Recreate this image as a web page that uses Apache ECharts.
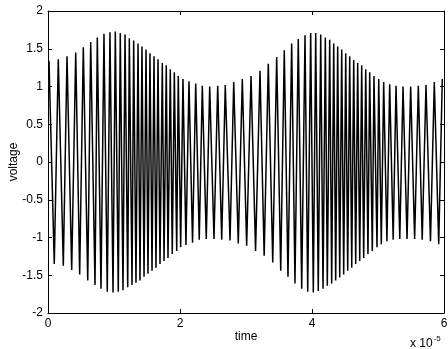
<!DOCTYPE html>
<html>
<head>
<meta charset="utf-8">
<script src="https://cdn.jsdelivr.net/npm/echarts@6/dist/echarts.min.js"></script>
<style>
  html, body { margin: 0; padding: 0; background: #fff; }
  #chart { width: 448px; height: 349px; }
</style>
</head>
<body>
<div id="chart"></div>
<script>
// time in units of 1e-5 s, voltage in V
const peakTime = [
  0.015, 0.156, 0.288, 0.420, 0.535, 0.647, 0.747, 0.848, 0.939, 1.020,
  1.095, 1.167, 1.232, 1.298, 1.364, 1.424, 1.485, 1.545, 1.606, 1.667,
  1.732, 1.792, 1.853, 1.914, 1.974, 2.045, 2.136, 2.238, 2.338, 2.450,
  2.571, 2.686, 2.814, 2.944,
  3.076, 3.212, 3.338, 3.465, 3.580, 3.692, 3.792, 3.894, 3.980, 4.056,
  4.132, 4.202, 4.268, 4.329, 4.389, 4.450, 4.511, 4.571, 4.632, 4.692,
  4.753, 4.814, 4.874, 4.939, 5.011, 5.086, 5.177, 5.273, 5.379, 5.495,
  5.611, 5.727, 5.853, 5.974
]
const peakVolt = [
  1.34, 1.36, 1.40, 1.45, 1.52, 1.59, 1.65, 1.70, 1.72, 1.73,
  1.71, 1.69, 1.64, 1.61, 1.57, 1.53, 1.49, 1.44, 1.40, 1.36,
  1.31, 1.28, 1.23, 1.19, 1.14, 1.10, 1.07, 1.04, 1.01, 1.00,
  1.01, 1.02, 1.06, 1.10,
  1.14, 1.21, 1.30, 1.39, 1.48, 1.57, 1.63, 1.68, 1.71, 1.71,
  1.69, 1.65, 1.62, 1.57, 1.53, 1.49, 1.44, 1.40, 1.35, 1.31,
  1.28, 1.23, 1.19, 1.14, 1.10, 1.06, 1.03, 1.01, 1.00, 1.00,
  1.01, 1.02, 1.06, 1.10
]
const troughTime = [
  0.095, 0.232, 0.359, 0.480, 0.602, 0.712, 0.803, 0.898, 0.985, 1.065,
  1.136, 1.208, 1.273, 1.333, 1.394, 1.455, 1.515, 1.576, 1.636, 1.697,
  1.758, 1.818, 1.883, 1.950, 2.010, 2.090, 2.190, 2.292, 2.398, 2.515,
  2.632, 2.758, 2.883,
  3.010, 3.145, 3.275, 3.405, 3.526, 3.636, 3.742, 3.844, 3.935, 4.020,
  4.095, 4.167, 4.232, 4.298, 4.359, 4.420, 4.480, 4.541, 4.602, 4.662,
  4.723, 4.783, 4.848, 4.914, 4.985, 5.050, 5.135, 5.230, 5.330, 5.440,
  5.555, 5.670, 5.795, 5.920
]
const troughVolt = [
  -1.35, -1.375, -1.43, -1.49, -1.57, -1.63, -1.68, -1.72, -1.73, -1.72,
  -1.70, -1.66, -1.63, -1.60, -1.57, -1.52, -1.48, -1.44, -1.40, -1.35,
  -1.31, -1.27, -1.22, -1.18, -1.13, -1.10, -1.07, -1.03, -1.02, -1.02,
  -1.03, -1.04, -1.08,
  -1.11, -1.18, -1.24, -1.33, -1.44, -1.52, -1.61, -1.68, -1.72, -1.73,
  -1.71, -1.68, -1.64, -1.61, -1.57, -1.53, -1.49, -1.44, -1.40, -1.35,
  -1.31, -1.27, -1.22, -1.18, -1.13, -1.09, -1.05, -1.03, -1.02, -1.02,
  -1.02, -1.03, -1.05, -1.09
]

const xTicks = { min: 0, max: 6, interval: 2 }
const yTicks = { min: -2, max: 2, interval: 0.5 }

const points = []
peakTime.forEach((t, i) => points.push([t, peakVolt[i]]))
troughTime.forEach((t, i) => points.push([t, troughVolt[i]]))
points.sort((a, b) => a[0] - b[0])

const chart = echarts.init(document.getElementById('chart'))

const font = { fontFamily: 'Liberation Sans, Arial, sans-serif', fontSize: 12, color: '#000' }
const tickStyle = { inside: true, length: 4, lineStyle: { color: '#000', width: 1 } }
const lineAxis = { show: true, onZero: false, lineStyle: { color: '#000', width: 1 } }

chart.setOption({
  animation: false,
  backgroundColor: '#fff',
  grid: { left: 48, right: 4, top: 11, bottom: 36, containLabel: false, outerBoundsMode: 'none' },
  xAxis: [
    {
      type: 'value', ...xTicks, position: 'bottom',
      axisLine: lineAxis, axisTick: tickStyle,
      axisLabel: { ...font, margin: 5 },
      splitLine: { show: false },
      name: 'time', nameLocation: 'middle', nameGap: 18, nameMoveOverlap: false,
      nameTextStyle: { ...font, verticalAlign: 'top' }
    },
    {
      type: 'value', ...xTicks, position: 'top',
      axisLine: lineAxis, axisTick: tickStyle,
      axisLabel: { show: false }, splitLine: { show: false }
    }
  ],
  yAxis: [
    {
      type: 'value', ...yTicks, position: 'left',
      axisLine: lineAxis, axisTick: tickStyle,
      axisLabel: { ...font, margin: 5 },
      splitLine: { show: false },
      name: 'voltage', nameLocation: 'middle', nameGap: 28, nameRotate: 90, nameMoveOverlap: false,
      nameTextStyle: { ...font, verticalAlign: 'bottom' }
    },
    {
      type: 'value', ...yTicks, position: 'right',
      axisLine: lineAxis, axisTick: tickStyle,
      axisLabel: { show: false }, splitLine: { show: false }
    }
  ],
  graphic: [
    {
      type: 'text', left: 410, top: 335,
      style: {
        text: '{a|x 10}{b|-5}',
        rich: {
          a: { ...font, fontSize: 12, verticalAlign: 'bottom', lineHeight: 15 },
          b: { ...font, fontSize: 8, verticalAlign: 'top', lineHeight: 15, padding: [0, 0, 7, 1] }
        }
      }
    }
  ],
  series: [
    {
      type: 'line',
      data: points,
      showSymbol: false,
      lineStyle: { color: '#000', width: 1.5 },
      clip: true
    }
  ]
})
</script>
</body>
</html>
